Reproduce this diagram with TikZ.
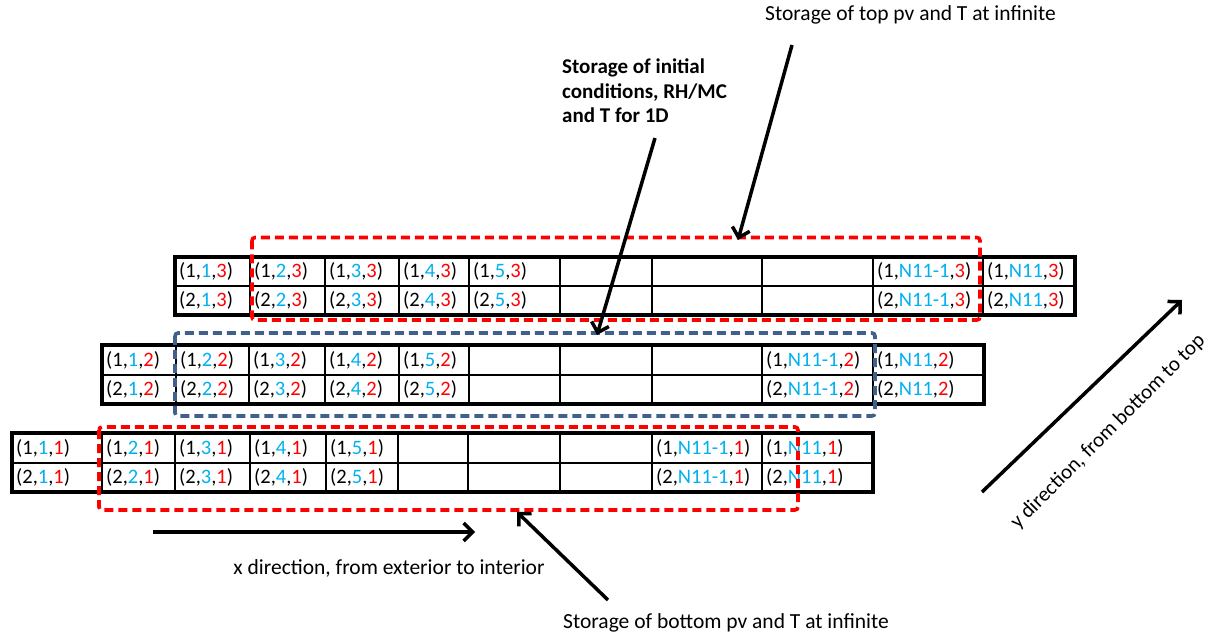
\documentclass[tikz,border=0pt]{standalone}
\usepackage{fontspec}
\setmainfont{Carlito}
\usetikzlibrary{arrows.meta}
\definecolor{cy}{RGB}{0,176,240}
\definecolor{rd}{RGB}{255,0,0}
\definecolor{bl}{RGB}{66,96,140}
\newcommand\cellpair[5]{% #1 layer, #2 x-left, #3 y row1, #4 y row2, #5 index
  \node[celltxt] (ra-#5-#1) at (#2+4,#3) {(1,\textcolor{cy}{#5},\textcolor{rd}{#1})};
  \node[celltxt] (rb-#5-#1) at (#2+4,#4) {(2,\textcolor{cy}{#5},\textcolor{rd}{#1})};}
\begin{document}
\begin{tikzpicture}[x=1pt,y=-1pt,
  outerline/.style={line width=3.2pt},
  innerline/.style={line width=2pt},
  celltxt/.style={anchor=west,inner sep=0pt,font=\fontsize{20.5}{24}\selectfont},
  dashbox/.style={line width=3.6pt,dash pattern=on 9pt off 5pt,rounded corners=3pt},
  arr/.style={line width=3.5pt,-{Straight Barb[length=9pt,width=18pt,line width=3.5pt]}},
  lbl/.style={inner sep=0pt,font=\fontsize{21.5}{25}\selectfont}]
\useasboundingbox (0,0) rectangle (1211,636);
% ---------- layer 3 (top)
\draw[innerline] (175,286) -- (1075,286);
\foreach \x in {250,325,399,469,560,652,762,873,983} \draw[innerline] (\x,257) -- (\x,315);
\draw[outerline] (175,257) rectangle (1075,315);
\cellpair{3}{175}{271.5}{300.5}{1}
\cellpair{3}{250}{271.5}{300.5}{2}
\cellpair{3}{325}{271.5}{300.5}{3}
\cellpair{3}{399}{271.5}{300.5}{4}
\cellpair{3}{469}{271.5}{300.5}{5}
\cellpair{3}{873}{271.5}{300.5}{N11-1}
\cellpair{3}{983}{271.5}{300.5}{N11}
% ---------- layer 2 (middle)
\draw[innerline] (102,375) -- (984,375);
\foreach \x in {176,249,325,399,469,560,652,762,873} \draw[innerline] (\x,345) -- (\x,404);
\draw[outerline] (102,345) rectangle (984,404);
\cellpair{2}{102}{360}{389.5}{1}
\cellpair{2}{176}{360}{389.5}{2}
\cellpair{2}{249}{360}{389.5}{3}
\cellpair{2}{325}{360}{389.5}{4}
\cellpair{2}{399}{360}{389.5}{5}
\cellpair{2}{762}{360}{389.5}{N11-1}
\cellpair{2}{873}{360}{389.5}{N11}
% ---------- layer 1 (bottom)
\draw[innerline] (12,463) -- (873,463);
\foreach \x in {102,175,250,326,398,468,560,652,762} \draw[innerline] (\x,433) -- (\x,492);
\draw[outerline] (12,433) rectangle (873,492);
\cellpair{1}{12}{448}{477.5}{1}
\cellpair{1}{102}{448}{477.5}{2}
\cellpair{1}{175}{448}{477.5}{3}
\cellpair{1}{250}{448}{477.5}{4}
\cellpair{1}{326}{448}{477.5}{5}
\cellpair{1}{652}{448}{477.5}{N11-1}
\cellpair{1}{762}{448}{477.5}{N11}
% ---------- dashed boxes
\draw[dashbox,rd] (252,237.5) rectangle (980,320);
\draw[dashbox,bl] (175,333) rectangle (875,416);
\draw[dashbox,rd] (99,427) rectangle (798,510);
% ---------- labels
\node[lbl,anchor=west] (toplbl) at (765,15) {Storage of top pv and T at infinite};
\node[lbl,anchor=north west,align=left,font=\bfseries\fontsize{21}{24.5}\selectfont] (midlbl) at (562,59) {Storage of initial\\conditions, RH/MC\\and T for 1D};
\node[lbl,anchor=west] (botlbl) at (563,623) {Storage of bottom pv and T at infinite};
\node[lbl] (xlbl) at (389,568) {x direction, from exterior to interior};
\node[lbl,rotate=45,font=\fontsize{21}{25}\selectfont] (ylbl) at (1108,432) {y direction, from bottom to top};
% ---------- arrows
\coordinate (topS) at (792,45);  \coordinate (topE) at (738,240);
\coordinate (midS) at (655,138); \coordinate (midE) at (597,335);
\coordinate (botS) at (608,600); \coordinate (botE) at (517,512);
\coordinate (xS) at (153,532);   \coordinate (xE) at (475,532);
\coordinate (yS) at (982,492);   \coordinate (yE) at (1182,300);
\draw[arr] (topS) -- (topE);
\draw[arr] (midS) -- (midE);
\draw[arr] (botS) -- (botE);
\draw[arr] (xS) -- (xE);
\draw[arr] (yS) -- (yE);
\end{tikzpicture}
\end{document}
